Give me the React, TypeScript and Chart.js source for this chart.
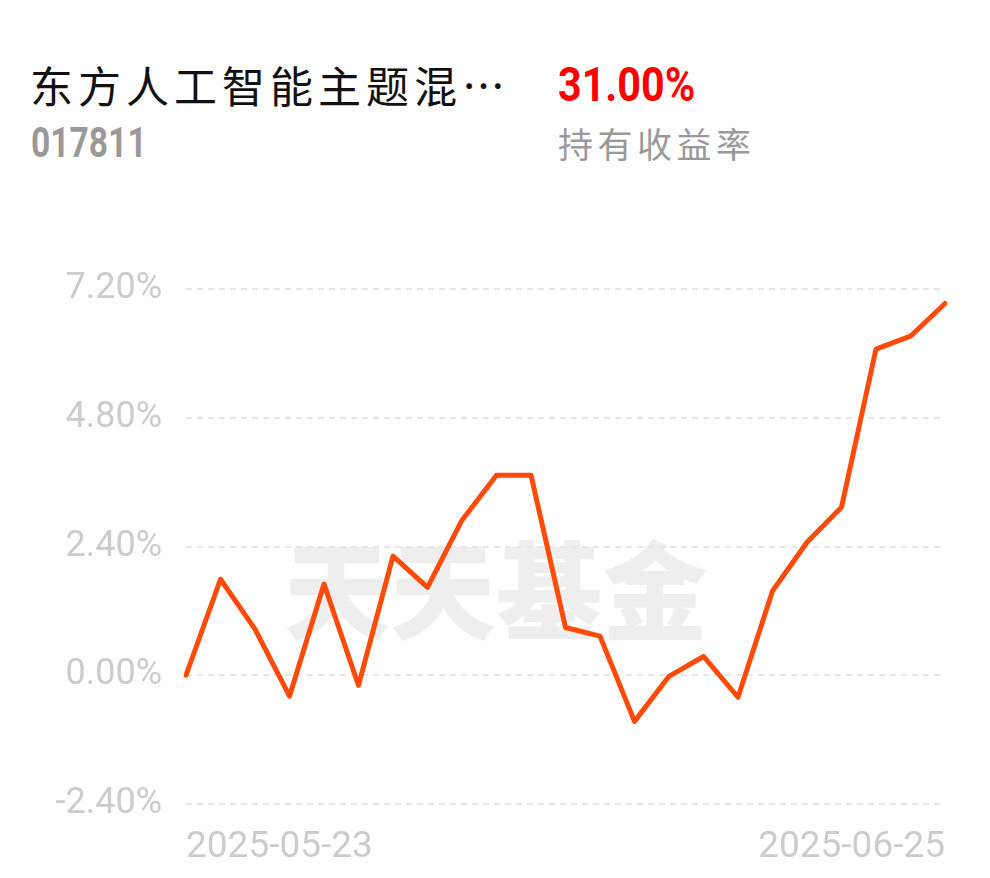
import React, { useEffect, useRef } from "react";
import { Chart, registerables } from "chart.js";

Chart.register(...registerables);

const fundName = "东方人工智能主题混…";
const fundCode = "017811";
const holdReturn = "31.00%";
const holdReturnLabel = "持有收益率";
const watermark = "天天基金";

const dates = [
  "2025-05-23", "2025-05-26", "2025-05-27", "2025-05-28", "2025-05-29", "2025-05-30",
  "2025-06-03", "2025-06-04", "2025-06-05", "2025-06-06", "2025-06-09", "2025-06-10",
  "2025-06-11", "2025-06-12", "2025-06-13", "2025-06-16", "2025-06-17", "2025-06-18",
  "2025-06-19", "2025-06-20", "2025-06-23", "2025-06-24", "2025-06-25",
];
const returns = [
  0.0, 1.79, 0.86, -0.39, 1.7, -0.19, 2.22, 1.64, 2.89, 3.73, 3.73, 0.89,
  0.73, -0.86, -0.02, 0.35, -0.41, 1.57, 2.48, 3.13, 6.08, 6.32, 6.93,
];
const yMin = -2.4;
const yMax = 7.2;
const yStep = 2.4;

export default function App() {
  const ref = useRef<HTMLCanvasElement | null>(null);

  useEffect(() => {
    if (!ref.current) return;
    const chart = new Chart(ref.current, {
      type: "line",
      data: {
        labels: dates,
        datasets: [
          {
            data: returns,
            borderColor: "#ff4a0a",
            borderWidth: 5,
            pointRadius: 0,
            tension: 0,
            fill: false,
            borderJoinStyle: "round",
            borderCapStyle: "round",
          },
        ],
      },
      options: {
        animation: false,
        responsive: false,
        layout: { padding: { left: 0, top: 289, right: 45, bottom: 0 } },
        plugins: { legend: { display: false }, tooltip: { enabled: false } },
        scales: {
          x: {
            afterFit: (s: any) => {
              s.height = 74;
            },
            grid: { display: false, drawTicks: false },
            border: { display: false },
            ticks: {
              autoSkip: false,
              maxRotation: 0,
              align: "inner",
              padding: 22,
              color: "#cccccc",
              font: { family: "Roboto", size: 37 },
              callback: (_v: any, i: number) =>
                i === 0 || i === dates.length - 1 ? dates[i] : "",
            },
          },
          y: {
            min: yMin,
            max: yMax,
            afterFit: (s: any) => {
              s.width = 186;
            },
            border: { display: false, dash: [6, 5] },
            grid: {
              color: "#e6e6e6",
              lineWidth: 2,
              drawTicks: false,
            },
            ticks: {
              stepSize: yStep,
              padding: 24,
              color: "#cccccc",
              font: { family: "Roboto", size: 36 },
              callback: (v: any) => Number(v).toFixed(2) + "%",
            },
          },
        },
      },
    } as any);
    return () => chart.destroy();
  }, []);

  return (
    <div
      style={{
        position: "absolute",
        left: 0,
        top: 0,
        width: 990,
        height: 878,
        background: "#ffffff",
        overflow: "hidden",
      }}
    >
      <div
        style={{
          position: "absolute",
          left: 30,
          top: 54,
          fontFamily: "'Noto Sans CJK SC'",
          fontSize: 43,
          letterSpacing: 5,
          color: "#111111",
          whiteSpace: "nowrap",
          lineHeight: "60px",
        }}
      >
        {fundName}
      </div>
      <div
        style={{
          position: "absolute",
          left: 31,
          top: 118,
          fontFamily: "Roboto",
          fontWeight: 700,
          fontSize: 42,
          color: "#999999",
          transform: "scaleX(0.8)",
          transformOrigin: "left top",
          lineHeight: "50px",
        }}
      >
        {fundCode}
      </div>
      <div
        style={{
          position: "absolute",
          left: 558,
          top: 55,
          fontFamily: "Roboto",
          fontWeight: 700,
          fontSize: 48,
          color: "#ff0000",
          transform: "scaleX(0.86)",
          transformOrigin: "left top",
          lineHeight: "60px",
        }}
      >
        {holdReturn}
      </div>
      <div
        style={{
          position: "absolute",
          left: 558,
          top: 118,
          fontFamily: "'Noto Sans CJK SC'",
          fontSize: 35,
          letterSpacing: 4.5,
          color: "#999999",
          whiteSpace: "nowrap",
          lineHeight: "50px",
        }}
      >
        {holdReturnLabel}
      </div>
      <div
        style={{
          position: "absolute",
          left: 284,
          top: 510,
          fontFamily: "'Noto Sans CJK SC'",
          fontWeight: 900,
          fontSize: 106,
          color: "#eeeeee",
          whiteSpace: "nowrap",
          lineHeight: "150px",
        }}
      >
        {watermark}
      </div>
      <canvas
        ref={ref}
        width={990}
        height={878}
        style={{ position: "absolute", left: 0, top: 0, width: 990, height: 878 }}
      />
    </div>
  );
}
